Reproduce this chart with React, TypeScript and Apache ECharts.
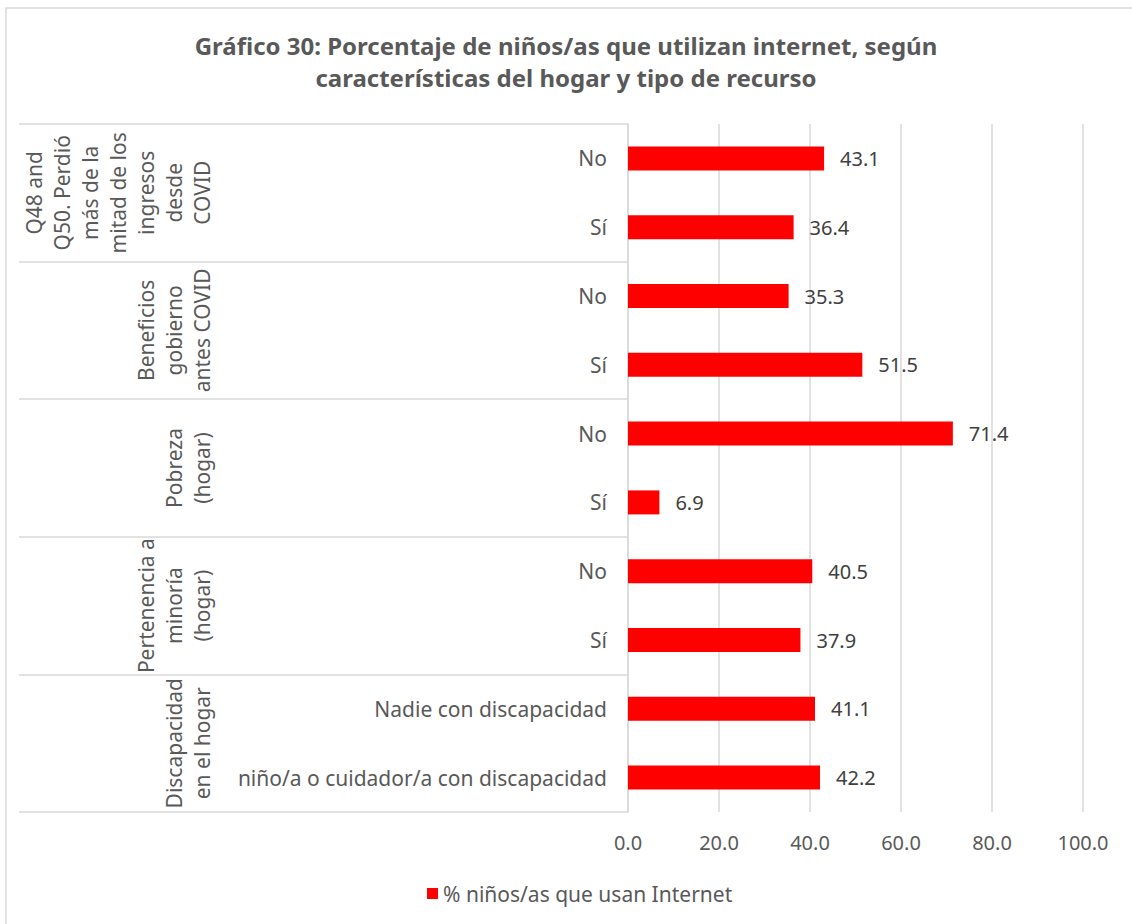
import React, { useEffect, useRef } from "react";
import * as echarts from "echarts";

const categories = [
  "No",
  "Sí",
  "No",
  "Sí",
  "No",
  "Sí",
  "No",
  "Sí",
  "Nadie con discapacidad",
  "niño/a o cuidador/a con discapacidad",
];
const values = [43.1, 36.4, 35.3, 51.5, 71.4, 6.9, 40.5, 37.9, 41.1, 42.2];
const groups = [
  "Q48 and\nQ50. Perdió\nmás de la\nmitad de los\ningresos\ndesde\nCOVID",
  "Beneficios\ngobierno\nantes COVID",
  "Pobreza\n(hogar)",
  "Pertenencia a\nminoría\n(hogar)",
  "Discapacidad\nen el hogar",
];
const xTicks = [0, 20, 40, 60, 80, 100];
const seriesName = "% niños/as que usan Internet";
const titleText =
  "Gráfico 30: Porcentaje de niños/as que utilizan internet, según\ncaracterísticas del hogar y tipo de recurso";

const FONT = "'Noto Sans', Lato, sans-serif";
const GREY = "#595959";
const LINE = "#d9d9d9";

export default function App() {
  const ref = useRef<HTMLDivElement>(null);
  useEffect(() => {
    document.body.style.margin = "0";
    if (!ref.current) return;
    const chart = echarts.init(ref.current, null, { renderer: "svg" });
    chart.setOption({
      animation: false,
      backgroundColor: "#ffffff",
      textStyle: { fontFamily: FONT },
      title: {
        text: titleText,
        left: "center",
        top: 24,
        textStyle: {
          fontFamily: FONT,
          fontSize: 24,
          fontWeight: "bold",
          color: GREY,
          lineHeight: 32,
        },
      },
      graphic: [
        {
          type: "rect",
          shape: { x: 6, y: 8, width: 1140, height: 940 },
          style: { fill: "none", stroke: LINE, lineWidth: 1.5 },
          silent: true,
        },
      ],
      legend: {
        left: 422,
        top: 878,
        icon: "rect",
        itemWidth: 11,
        itemHeight: 11,
        data: [seriesName],
        textStyle: { fontFamily: FONT, fontSize: 21, color: GREY },
      },
      grid: { left: 628, right: 49, top: 124, bottom: 112, containLabel: false },
      xAxis: {
        type: "value",
        min: xTicks[0],
        max: xTicks[xTicks.length - 1],
        interval: xTicks[1] - xTicks[0],
        axisLine: { show: false },
        axisTick: { show: false },
        splitLine: { lineStyle: { color: LINE, width: 1.5 } },
        axisLabel: {
          margin: 20,
          fontFamily: FONT,
          fontSize: 20,
          color: GREY,
          formatter: (v: number) => v.toFixed(1),
        },
      },
      yAxis: [
        {
          type: "category",
          data: categories,
          inverse: true,
          position: "left",
          axisLine: { show: true, lineStyle: { color: LINE, width: 1.5 } },
          axisTick: { show: false },
          axisLabel: {
            interval: 0,
            margin: 21,
            fontFamily: FONT,
            fontSize: 21,
            color: GREY,
          },
        },
        {
          type: "category",
          data: groups,
          inverse: true,
          position: "left",
          axisLine: { show: false },
          axisTick: {
            show: true,
            length: 609,
            lineStyle: { color: LINE, width: 1.5 },
          },
          axisLabel: {
            interval: 0,
            rotate: 90,
            margin: 412,
            fontFamily: FONT,
            fontSize: 21,
            lineHeight: 28,
            color: GREY,
            align: "center",
          },
        },
      ],
      series: [
        {
          name: seriesName,
          type: "bar",
          yAxisIndex: 0,
          data: values,
          barWidth: 24,
          itemStyle: { color: "#ff0000" },
          label: {
            show: true,
            position: "right",
            distance: 16,
            fontFamily: FONT,
            fontSize: 20,
            color: "#404040",
            formatter: (p: any) => Number(p.value).toFixed(1),
          },
        },
      ],
    });
    return () => chart.dispose();
  }, []);
  return <div ref={ref} style={{ width: 1132, height: 924 }} />;
}
